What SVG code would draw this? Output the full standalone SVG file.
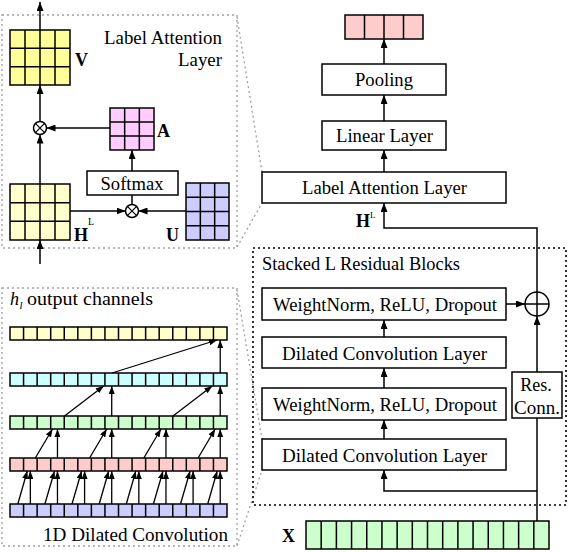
<svg xmlns="http://www.w3.org/2000/svg" xmlns:xlink="http://www.w3.org/1999/xlink" width="570" height="552" viewBox="0 0 570 552">
<style>
text{font-family:"Liberation Serif","DejaVu Serif",serif;font-size:18px;fill:#000}
.b{font-weight:bold}
.c{text-anchor:middle}
.box{fill:#fff;stroke:#000;stroke-width:1.5}
.grid{stroke:#000;stroke-width:1.5}
.ln{fill:none;stroke:#000;stroke-width:1.5}
.ar{fill:none;stroke:#000;stroke-width:1.5;marker-end:url(#ah)}
.as{fill:none;stroke:#000;stroke-width:1.3;marker-end:url(#as)}
.gd{fill:none;stroke:#a0a0a0;stroke-width:1.3;stroke-dasharray:2,3}
.bd{fill:none;stroke:#000;stroke-width:1.6;stroke-dasharray:2,3}
</style>
<defs>
<marker id="ah" markerUnits="userSpaceOnUse" markerWidth="9" markerHeight="7" refX="9" refY="3.5" orient="auto"><path d="M0,0 L9,3.5 L0,7 z" fill="#000"/></marker>
<marker id="as" markerUnits="userSpaceOnUse" markerWidth="8" markerHeight="6" refX="8" refY="3" orient="auto"><path d="M0,0 L8,3 L0,6 z" fill="#000"/></marker>
<g id="row16">
<rect x="10" y="0" width="217" height="13" stroke="#000" stroke-width="1.5"/>
<path d="M23.56,0v13M37.13,0v13M50.69,0v13M64.25,0v13M77.81,0v13M91.38,0v13M104.94,0v13M118.5,0v13M132.06,0v13M145.63,0v13M159.19,0v13M172.75,0v13M186.31,0v13M199.88,0v13M213.44,0v13" fill="none" stroke="#000" stroke-width="1.5"/>
</g>
</defs>

<g id="panel-attention-frame">
<rect x="2" y="15" width="235" height="233" class="gd"/>
<path d="M237,17 L262,172 M237,247 L262,203" class="gd"/>
</g>
<g id="panel-conv-frame">
<rect x="2" y="288" width="235" height="258" class="gd"/>
<path d="M237,290 L262,439 M237,546 L262,470" class="gd"/>
</g>

<text x="104" y="44" textLength="118" lengthAdjust="spacingAndGlyphs">Label Attention</text>
<text x="178" y="66" textLength="44" lengthAdjust="spacingAndGlyphs">Layer</text>

<g id="V">
<rect x="10" y="30" width="60" height="55" fill="#FFFF99" class="grid"/>
<path d="M25,30v55M40,30v55M55,30v55M10,48.33h60M10,66.67h60" class="grid"/>
<text x="75" y="66" class="b">V</text>
</g>
<g id="A">
<rect x="110" y="108" width="44" height="42" fill="#FFCCFF" class="grid"/>
<path d="M124.67,108v42M139.33,108v42M110,122h44M110,136h44" class="grid"/>
<text x="157" y="137" class="b">A</text>
</g>
<g id="HL">
<rect x="10" y="184" width="60" height="56" fill="#FFFFCC" class="grid"/>
<path d="M25,184v56M40,184v56M55,184v56M10,202.67h60M10,221.33h60" class="grid"/>
<text x="74" y="241" class="b">H</text>
<text x="88" y="225" style="font-size:10px">L</text>
</g>
<g id="U">
<rect x="186" y="183" width="43" height="57" fill="#CCCCFF" class="grid"/>
<path d="M200.33,183v57M214.67,183v57M186,197.25h43M186,211.5h43M186,225.75h43" class="grid"/>
<text x="166" y="241" class="b">U</text>
</g>
<g id="softmax">
<rect x="87" y="171" width="91" height="24" class="box"/>
<text x="132" y="189.5" class="c" textLength="63" lengthAdjust="spacingAndGlyphs">Softmax</text>
</g>
<g id="mul-top">
<circle cx="40" cy="128" r="6.5" fill="#fff" stroke="#000" stroke-width="1.5"/>
<path d="M35.4,123.4L44.6,132.6M44.6,123.4L35.4,132.6" class="ln" style="stroke-width:1.2"/>
</g>
<g id="mul-bottom">
<circle cx="132" cy="211" r="6.5" fill="#fff" stroke="#000" stroke-width="1.5"/>
<path d="M127.4,206.4L136.6,215.6M136.6,206.4L127.4,215.6" class="ln" style="stroke-width:1.2"/>
</g>

<text x="10" y="305" font-style="italic">h</text>
<text x="19.5" y="309" font-style="italic" style="font-size:11px">l</text>
<text x="27" y="305" textLength="126" lengthAdjust="spacingAndGlyphs">output channels</text>
<g id="row-yellow"><use xlink:href="#row16" href="#row16" y="327" fill="#FFFFCC"/></g>
<g id="row-cyan"><use xlink:href="#row16" href="#row16" y="373" fill="#CCFFFF"/></g>
<g id="row-green"><use xlink:href="#row16" href="#row16" y="416" fill="#CCFFCC"/></g>
<g id="row-pink"><use xlink:href="#row16" href="#row16" y="458" fill="#FFCCCC"/></g>
<g id="row-blue"><use xlink:href="#row16" href="#row16" y="504" fill="#CCCCFF"/></g>
<text x="43" y="541" textLength="185" lengthAdjust="spacingAndGlyphs">1D Dilated Convolution</text>

<g id="output">
<rect x="345" y="15" width="78" height="24" fill="#FFCCCC" class="grid"/>
<path d="M364.5,15v24M384,15v24M403.5,15v24" class="grid"/>
</g>
<g id="pooling">
<rect x="322" y="64" width="124" height="31" class="box"/>
<text x="384" y="86" class="c" textLength="58" lengthAdjust="spacingAndGlyphs">Pooling</text>
</g>
<g id="linear">
<rect x="322" y="121" width="124" height="29" class="box"/>
<text x="384.5" y="141.5" class="c" textLength="97" lengthAdjust="spacingAndGlyphs">Linear Layer</text>
</g>
<g id="lal">
<rect x="262" y="172" width="244" height="31" class="box"/>
<text x="384.5" y="194" class="c" textLength="165" lengthAdjust="spacingAndGlyphs">Label Attention Layer</text>
</g>
<g id="HL-label">
<text x="356" y="227" class="b">H</text>
<text x="370" y="218" style="font-size:9px">L</text>
</g>

<g id="residual-blocks">
<rect x="253" y="248" width="313" height="257" class="bd"/>
<text x="262" y="270" textLength="198" lengthAdjust="spacingAndGlyphs">Stacked L Residual Blocks</text>
</g>
<g id="wn1">
<rect x="262" y="288" width="244" height="32" class="box"/>
<text x="385" y="310.5" class="c" textLength="224" lengthAdjust="spacingAndGlyphs">WeightNorm, ReLU, Dropout</text>
</g>
<g id="dc2">
<rect x="262" y="337" width="244" height="31" class="box"/>
<text x="384.5" y="360" class="c" textLength="205" lengthAdjust="spacingAndGlyphs">Dilated Convolution Layer</text>
</g>
<g id="wn2">
<rect x="262" y="388" width="244" height="32" class="box"/>
<text x="385" y="410.5" class="c" textLength="224" lengthAdjust="spacingAndGlyphs">WeightNorm, ReLU, Dropout</text>
</g>
<g id="dc1">
<rect x="262" y="439" width="244" height="31" class="box"/>
<text x="384.5" y="462" class="c" textLength="205" lengthAdjust="spacingAndGlyphs">Dilated Convolution Layer</text>
</g>
<g id="resconn">
<rect x="512" y="372" width="50" height="46" class="box"/>
<text x="536" y="391" class="c">Res.</text>
<text x="537" y="414" class="c" textLength="46" lengthAdjust="spacingAndGlyphs">Conn.</text>
</g>
<g id="add">
<circle cx="537" cy="304" r="12" fill="#fff" stroke="#000" stroke-width="1.5"/>
<path d="M525,304h24M537,292v24" class="ln"/>
</g>
<g id="X">
<rect x="306" y="521" width="243" height="28" fill="#CCFFCC" class="grid"/>
<path d="M321.19,521v28M336.38,521v28M351.56,521v28M366.75,521v28M381.94,521v28M397.13,521v28M412.31,521v28M427.5,521v28M442.69,521v28M457.88,521v28M473.06,521v28M488.25,521v28M503.44,521v28M518.63,521v28M533.81,521v28" class="grid"/>
<text x="282" y="542" class="b">X</text>
</g>

<g id="connectors">
<path d="M40,30V2" class="ar"/>
<path d="M40,121.5V85" class="ar"/>
<path d="M110,128H46.5" class="ar"/>
<path d="M132,171V150" class="ar"/>
<path d="M132,195V204.5" class="ln"/>
<path d="M70,211H125.5" class="ar"/>
<path d="M186,211H138.5" class="ar"/>
<path d="M40,184V134.5" class="ar"/>
<path d="M40,264V240" class="ar"/>
<path d="M384,64V39" class="ar"/>
<path d="M384,121V95" class="ar"/>
<path d="M384,172V150" class="ar"/>
<path d="M537,292V228H384V203" class="ar"/>
<path d="M506,304H525" class="ar"/>
<path d="M384,337V320" class="ar"/>
<path d="M384,388V368" class="ar"/>
<path d="M384,439V420" class="ar"/>
<path d="M537,372V316" class="ar"/>
<path d="M537,521V418" class="ln"/>
<path d="M537,491H384V470" class="ar"/>
<path d="M30.34,504V471" class="as"/><path d="M17.8,504L27.3,471" class="as"/>
<path d="M57.47,504V471" class="as"/><path d="M44.9,504L54.5,471" class="as"/>
<path d="M84.59,504V471" class="as"/><path d="M72,504L81.6,471" class="as"/>
<path d="M111.72,504V471" class="as"/><path d="M99.2,504L108.7,471" class="as"/>
<path d="M138.84,504V471" class="as"/><path d="M126.3,504L135.8,471" class="as"/>
<path d="M165.97,504V471" class="as"/><path d="M153.4,504L163,471" class="as"/>
<path d="M193.09,504V471" class="as"/><path d="M180.5,504L190.1,471" class="as"/>
<path d="M220.22,504V471" class="as"/><path d="M207.7,504L217.2,471" class="as"/>
<path d="M57.47,458V429" class="as"/><path d="M35.3,458L52.5,429" class="as"/>
<path d="M111.72,458V429" class="as"/><path d="M89.6,458L106.7,429" class="as"/>
<path d="M165.97,458V429" class="as"/><path d="M143.8,458L161,429" class="as"/>
<path d="M220.22,458V429" class="as"/><path d="M198.1,458L215.2,429" class="as"/>
<path d="M111.72,416V386" class="as"/><path d="M64.5,416L103.7,386" class="as"/>
<path d="M220.22,416V386" class="as"/><path d="M173,416L212.2,386" class="as"/>
<path d="M220.22,373V340" class="as"/><path d="M112,373L217,340" class="as"/>
</g>
</svg>
